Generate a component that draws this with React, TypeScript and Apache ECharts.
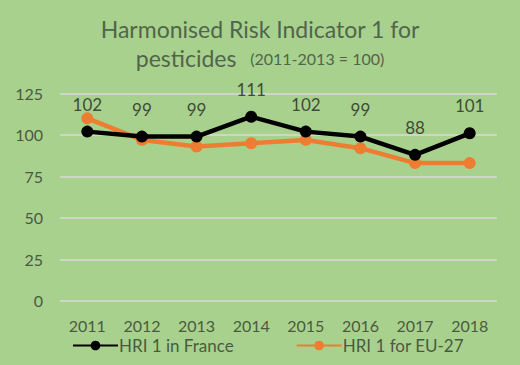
import React, { useEffect, useRef } from "react";
import * as echarts from "echarts";

const years = ["2011", "2012", "2013", "2014", "2015", "2016", "2017", "2018"];
const france = [102, 99, 99, 111, 102, 99, 88, 101];
const eu27 = [110, 97, 93, 95, 97, 92, 83, 83];
const yTicks = { min: 0, max: 125, interval: 25 };

const textColor = "#4A5A40";
const titleColor = "#51654A";
const font = "Lato, 'Open Sans', sans-serif";

export default function App() {
  const ref = useRef<HTMLDivElement>(null);
  useEffect(() => {
    if (!ref.current) return;
    const chart = echarts.init(ref.current, undefined, { renderer: "svg" });
    chart.setOption({
      animation: false,
      backgroundColor: "#A9D18E",
      textStyle: { fontFamily: font },
      title: [
        {
          left: "center",
          top: 12,
          text: "Harmonised Risk Indicator 1 for",
          textStyle: { fontSize: 23, fontWeight: "normal", color: titleColor, fontFamily: font },
        },
        {
          left: "center",
          top: 38,
          text: "{a|pesticides}   {b|(2011-2013 = 100)}",
          textStyle: {
            fontWeight: "normal",
            rich: {
              a: { fontSize: 23, fontWeight: "normal", color: titleColor, fontFamily: font, lineHeight: 30 },
              b: { fontSize: 16, fontWeight: "normal", color: titleColor, fontFamily: font, lineHeight: 30 },
            },
          },
        },
      ],
      grid: { left: 60, right: 23, top: 93.5, bottom: 64.3 },
      legend: {
        bottom: 6,
        left: 67,
        itemWidth: 45,
        itemHeight: 12,
        itemGap: 62,
        textStyle: { color: textColor, fontSize: 17, fontFamily: font, padding: [0, 0, 0, -4] },
        data: ["HRI 1 in France", "HRI 1 for EU-27"],
      },
      xAxis: {
        type: "category",
        data: years,
        boundaryGap: true,
        axisLine: { show: false },
        axisTick: { show: false },
        axisLabel: { color: textColor, fontSize: 16, fontFamily: font, margin: 17 },
      },
      yAxis: {
        type: "value",
        min: yTicks.min,
        max: yTicks.max,
        interval: yTicks.interval,
        axisLine: { show: false },
        axisTick: { show: false },
        axisLabel: { color: textColor, fontSize: 16, fontFamily: font, margin: 17 },
        splitLine: { lineStyle: { color: "#D9D9D9", width: 1.5 } },
      },
      series: [
        {
          name: "HRI 1 for EU-27",
          type: "line",
          data: eu27,
          z: 2,
          symbol: "circle",
          symbolSize: 12,
          color: "#ED7D31",
          lineStyle: { width: 4.5, color: "#ED7D31" },
          itemStyle: { color: "#ED7D31" },
        },
        {
          name: "HRI 1 in France",
          type: "line",
          data: france,
          z: 3,
          symbol: "circle",
          symbolSize: 12,
          color: "#000000",
          lineStyle: { width: 4.5, color: "#000000" },
          itemStyle: { color: "#000000" },
          label: {
            show: true,
            position: "top",
            distance: 13,
            color: "#3F4C37",
            fontSize: 17,
            fontFamily: font,
          },
        },
      ],
    });
    return () => chart.dispose();
  }, []);
  return <div ref={ref} style={{ width: 520, height: 365, position: "absolute", left: 0, top: 0 }} />;
}
